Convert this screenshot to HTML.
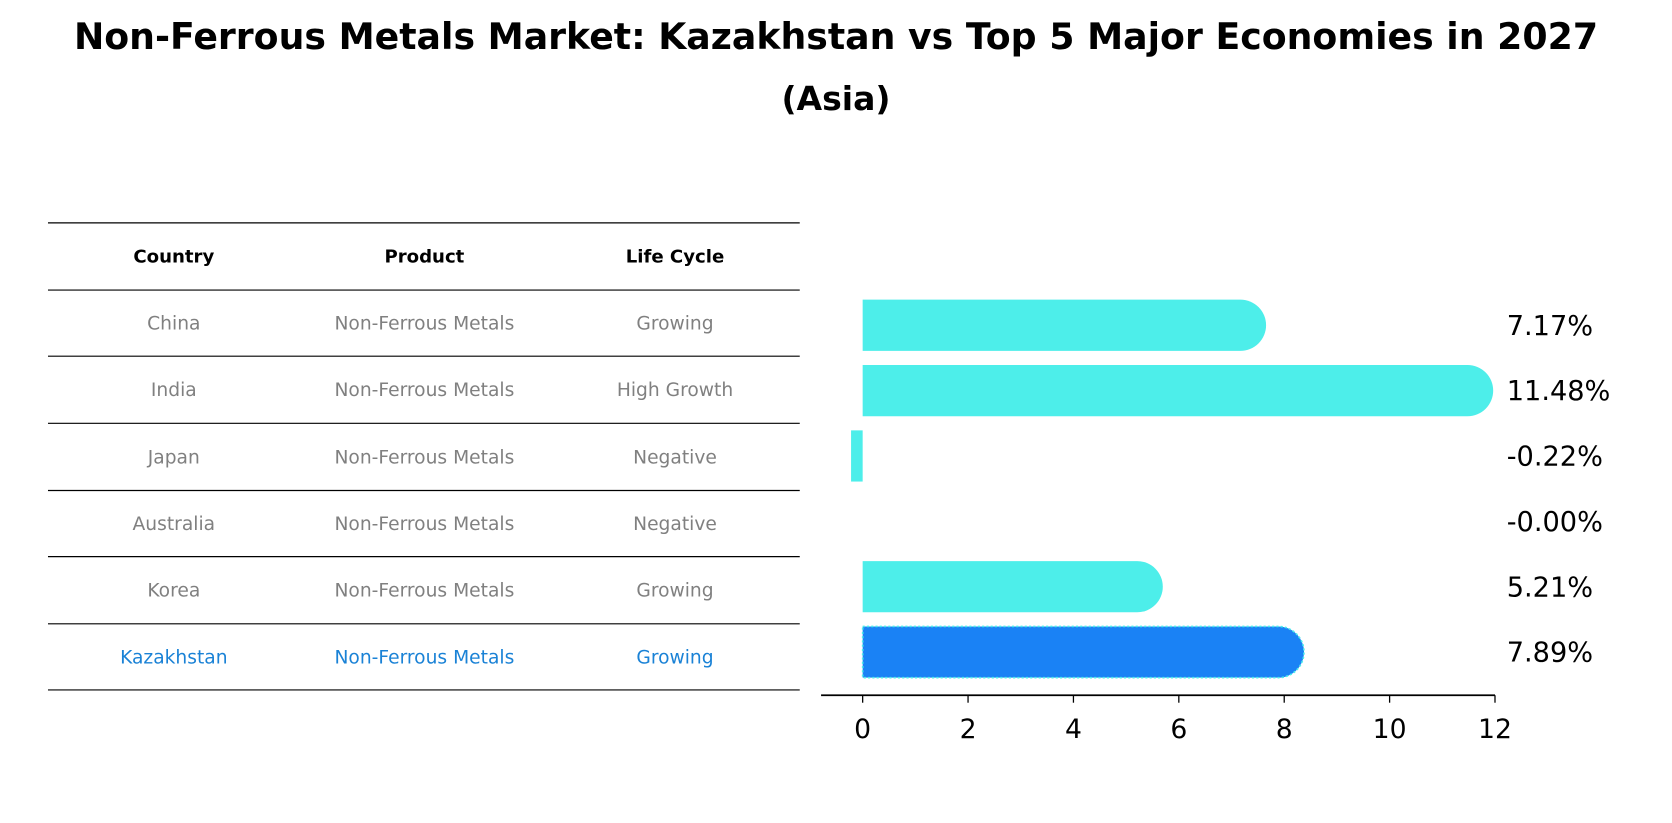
<!DOCTYPE html>
<html><head><meta charset="utf-8"><style>
body{margin:0;background:#fff;}
svg{display:block;font-family:"DejaVu Sans","Liberation Sans",sans-serif;}
</style></head><body>
<svg width="1672" height="823" viewBox="0 0 1672 823">
<g transform="scale(1.06633)">
<text x="784" y="46" text-anchor="middle" font-size="34" font-weight="bold">Non-Ferrous Metals Market: Kazakhstan vs Top 5 Major Economies in 2027</text>
<text x="784" y="103" text-anchor="middle" font-size="31" font-weight="bold">(Asia)</text>
<g id="table"></g>
<g id="bars"></g>
</g>
</svg>
<script>
const countries=["China","India","Japan","Australia","Korea","Kazakhstan"];
const products=["Non-Ferrous Metals","Non-Ferrous Metals","Non-Ferrous Metals","Non-Ferrous Metals","Non-Ferrous Metals","Non-Ferrous Metals"];
const lifeCycles=["Growing","High Growth","Negative","Negative","Growing","Growing"];
const growth=[7.17,11.48,-0.22,-0.00,5.21,7.89];
const valueLabels=["7.17%","11.48%","-0.22%","-0.00%","5.21%","7.89%"];
const xTicks=[0,2,4,6,8,10,12];
const NS="http://www.w3.org/2000/svg";
function mk(tag,attrs,parent){const e=document.createElementNS(NS,tag);for(const k in attrs)e.setAttribute(k,attrs[k]);parent.appendChild(e);return e;}
const table=document.getElementById('table');
const lineYs=[209,272,334,397,460,522,585,647];
const colX=[163,398,633];
lineYs.forEach(y=>{const l=mk('line',{x1:45,x2:750,y1:y,y2:y,stroke:'#000','stroke-width':1.1},table);

});
["Country","Product","Life Cycle"].forEach((h,i)=>{const t=mk('text',{x:colX[i],y:246,'text-anchor':'middle','font-size':17,'font-weight':'bold'},table);t.textContent=h;

});
countries.forEach((c,r)=>{const y=(lineYs[r+1]+lineYs[r+2])/2+6;const col=r===countries.length-1?'#1a82d6':'#808080';
[c,products[r],lifeCycles[r]].forEach((v,i)=>{const t=mk('text',{x:colX[i],y:y,'text-anchor':'middle','font-size':17.5,fill:col},table);t.textContent=v;

});});
const g=document.getElementById('bars');
const x0=809,pxPer=(1402-809)/12;
const X=v=>x0+v*pxPer;
const yc=i=>305+i*61.3;
const bh=48,r=24;
growth.forEach((v,i)=>{const col=i===growth.length-1?'#1a82f5':'#4deeea';
const top=yc(i)-bh/2;
let el;
if(v>0.3){const xe=X(v);el=mk('path',{d:`M${x0},${top} H${xe} A${r},${r} 0 0 1 ${xe},${top+bh} H${x0} Z`,fill:col},g);}
else{const xe=X(v);el=mk('rect',{x:Math.min(xe,x0),y:top,width:Math.abs(xe-x0),height:bh,fill:col},g);}
if(i===growth.length-1){el.setAttribute('stroke','#4deeea');el.setAttribute('stroke-dasharray','2,2');el.setAttribute('stroke-width','1.5');}


const t=mk('text',{x:1413,y:yc(i)+9,'font-size':25.5},g);t.textContent=valueLabels[i];

});
const ax=mk('line',{x1:770,x2:1402,y1:652,y2:652,stroke:'#000','stroke-width':1.6},g);


xTicks.forEach(v=>{const tk=mk('line',{x1:X(v),x2:X(v),y1:652,y2:659,stroke:'#000','stroke-width':1.2},g);


const t=mk('text',{x:X(v),y:692,'text-anchor':'middle','font-size':25},g);t.textContent=v;

});
</script>
</body></html>
